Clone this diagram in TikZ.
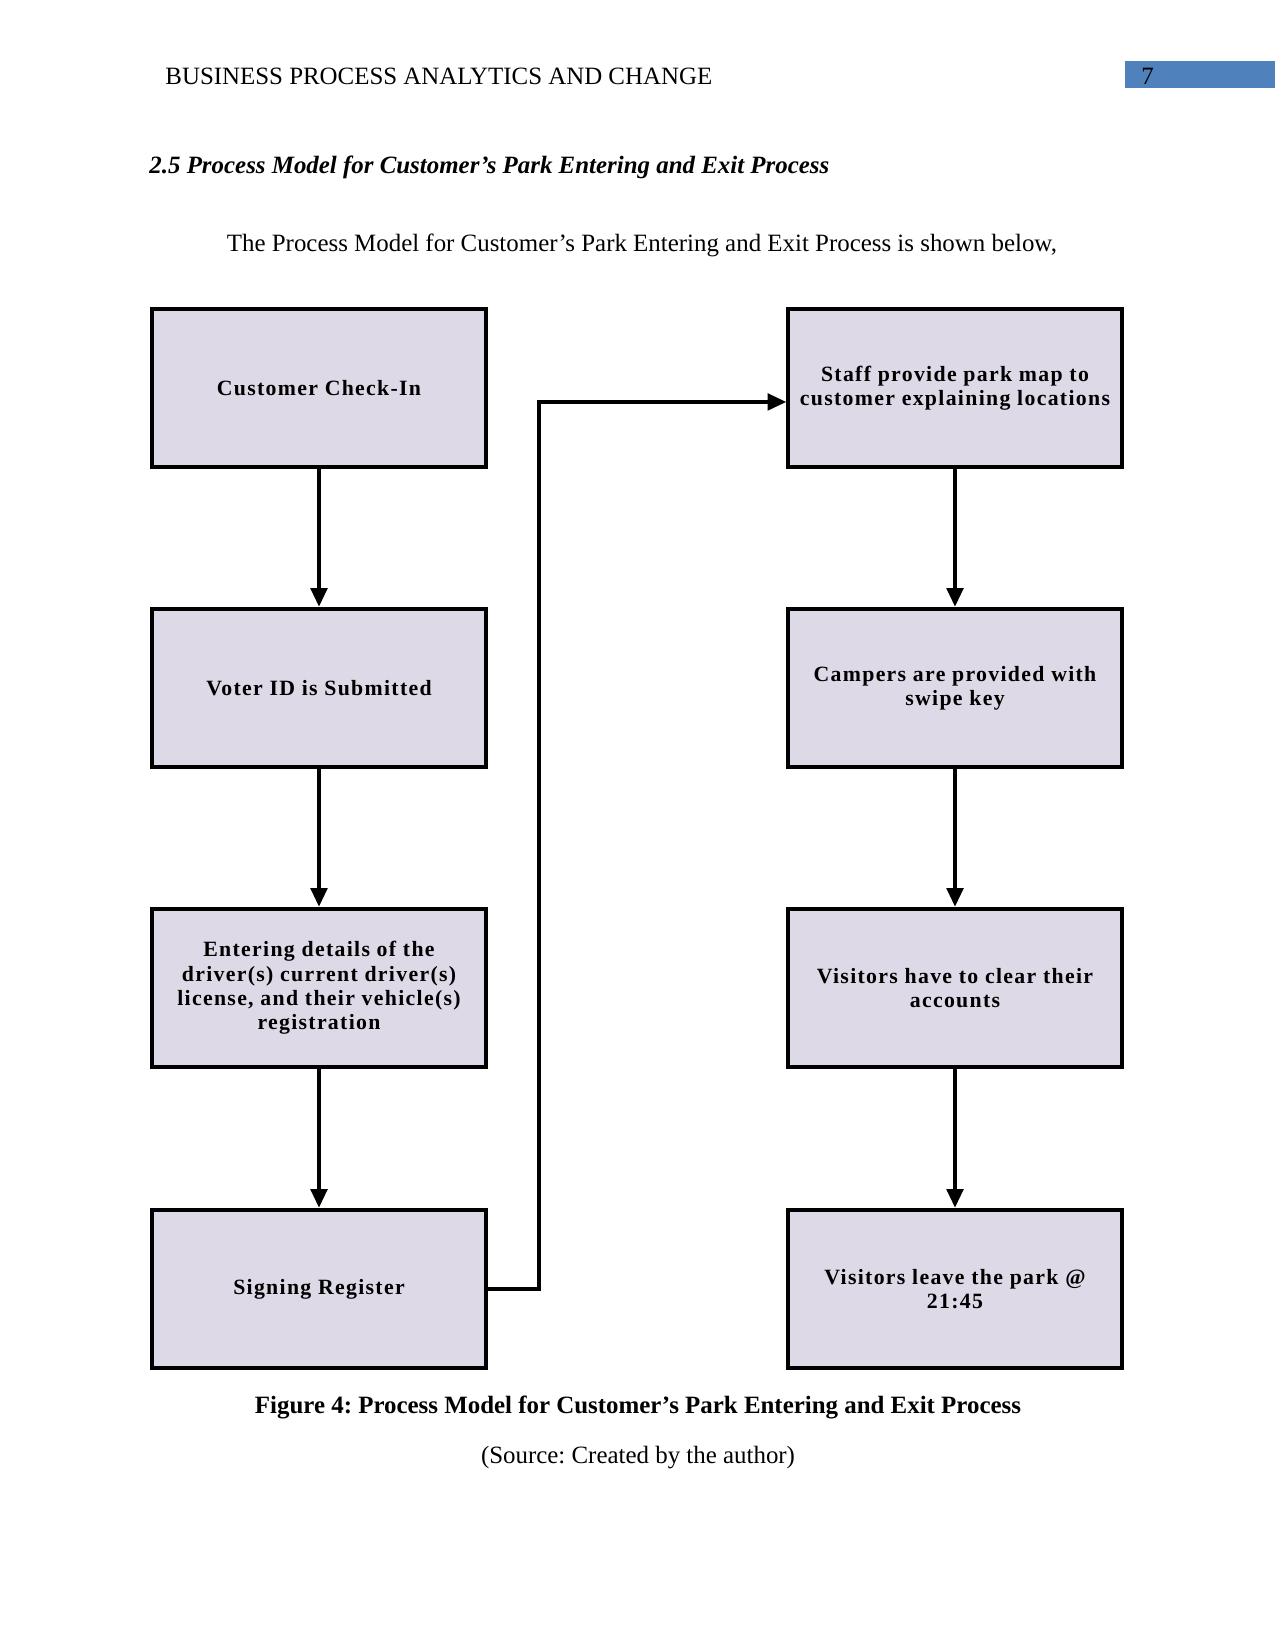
\documentclass[tikz,border=0pt]{standalone}
\usepackage{fontspec}
\setmainfont{Liberation Serif}
\newfontfamily\boxfont[LetterSpace=6]{Liberation Serif}
\usepackage{xcolor}
\definecolor{boxfill}{RGB}{221,217,230}
\definecolor{hdrblue}{RGB}{79,129,189}
\usetikzlibrary{arrows.meta,positioning,calc}
\frenchspacing
\begin{document}
\begin{tikzpicture}[
  x=0.48bp,y=-0.48bp,
  proc/.style={draw,line width=2bp,fill=boxfill,minimum width=160bp,minimum height=76bp,
    inner sep=2bp,font=\boxfont\bfseries\fontsize{10.5}{11.7}\selectfont,align=center},
  arr/.style={-{Triangle[length=9bp,width=8bp]},line width=1.7bp},
  pagetxt/.style={font=\fontsize{12}{14}\selectfont,inner sep=0pt}
]
  \useasboundingbox (0,0) rectangle (1275,1650);
  % Page header
  \node[pagetxt,anchor=west] (hdr) at (165,76) {BUSINESS PROCESS ANALYTICS AND CHANGE};
  \fill[hdrblue] (1125,61) rectangle (1275,88);
  \node[pagetxt,anchor=west] (pgno) at (1141,76) {7};
  \node[pagetxt,anchor=west,font=\fontsize{12}{14}\selectfont\bfseries\itshape] (sect) at (149,167)
    {2.5 Process Model for Customer’s Park Entering and Exit Process};
  \node[pagetxt] (intro) at (642,245) {The Process Model for Customer’s Park Entering and Exit Process is shown below,};
  % Entering (left column)
  \node[proc] (chkin) at (319,388) {Customer Check-In};
  \node[proc] (voter) at (319,688) {Voter ID is Submitted};
  \node[proc] (details) at (319,988) {Entering details of the\\driver(s) current driver(s)\\license, and their vehicle(s)\\registration};
  \node[proc] (signreg) at (319,1289) {Signing Register};
  % Exit (right column)
  \node[proc] (staff) at (955,388) {Staff provide park map to\\customer explaining locations};
  \node[proc] (campers) at (955,688) {Campers are provided with\\swipe key};
  \node[proc] (accounts) at (955,988) {Visitors have to clear their\\accounts};
  \node[proc] (leave) at (955,1289) {Visitors leave the park @\\21:45};
  % Flow
  \draw[arr] (chkin) -- (voter);
  \draw[arr] (voter) -- (details);
  \draw[arr] (details) -- (signreg);
  \draw[arr] (signreg.east) -- ++(51,0) |- ([yshift=-6.7bp]staff.west);
  \draw[arr] (staff) -- (campers);
  \draw[arr] (campers) -- (accounts);
  \draw[arr] (accounts) -- (leave);
  % Caption
  \node[pagetxt,font=\fontsize{12}{14}\selectfont\bfseries] (capt) at (638,1407)
    {Figure 4: Process Model for Customer’s Park Entering and Exit Process};
  \node[pagetxt] (src) at (638,1458) {(Source: Created by the author)};
\end{tikzpicture}
\end{document}
